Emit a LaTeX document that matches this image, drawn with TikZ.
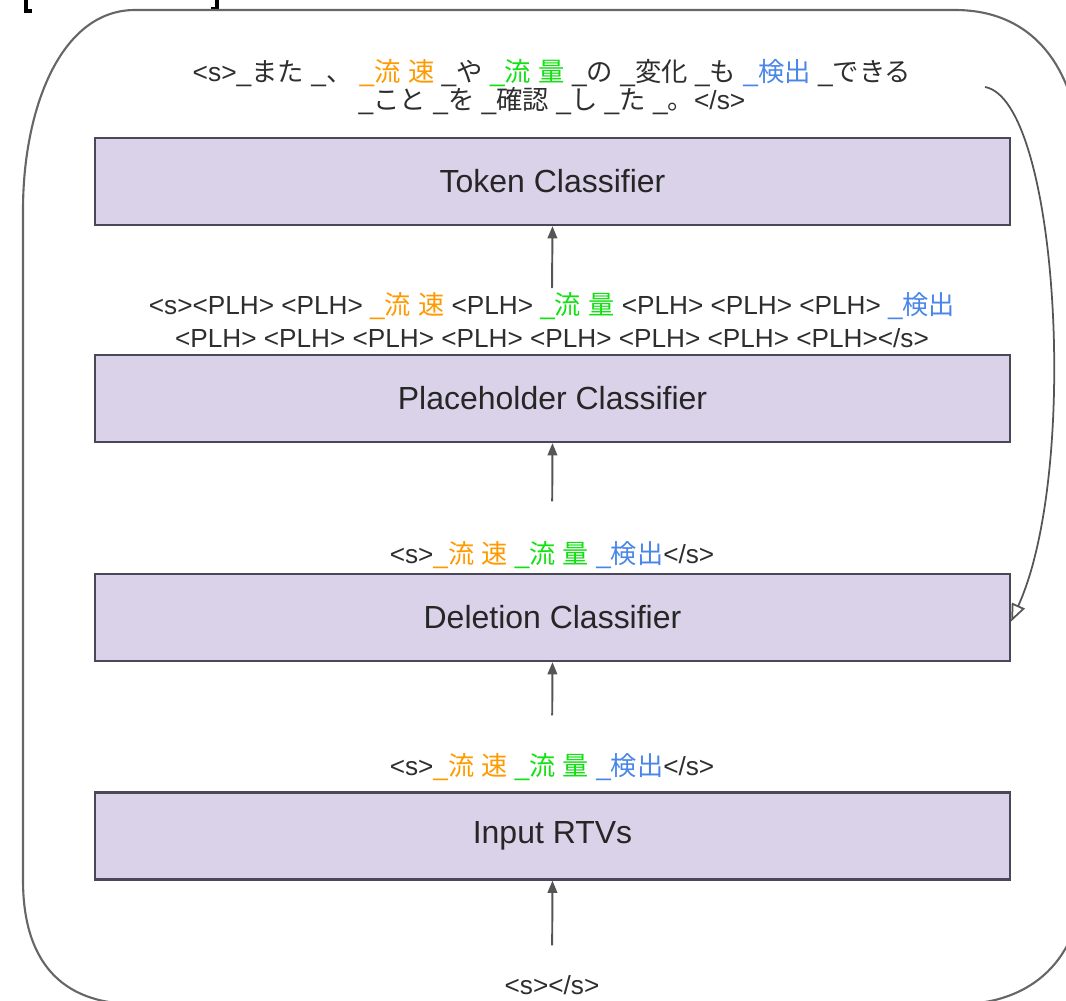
\documentclass[tikz,border=0pt]{standalone}
\usepackage{fontspec}
\setmainfont{Liberation Sans}
\newfontfamily\jp{Noto Sans CJK JP}
\usetikzlibrary{arrows.meta}
\definecolor{boxfill}{HTML}{D9D2E9}
\definecolor{boxline}{HTML}{4A4858}
\definecolor{txt}{HTML}{2E2E2E}
\definecolor{arr}{HTML}{555555}
\definecolor{tor}{HTML}{FF9900}
\definecolor{tgr}{HTML}{11E011}
\definecolor{tbl}{HTML}{4A86E8}
\newcommand\J[1]{{\jp #1}}
\tikzset{
  stagebox/.style={draw=boxline, line width=1.3pt, fill=boxfill,
    minimum width=915*0.02cm, minimum height=87*0.02cm, inner sep=0pt,
    font=\fontsize{18.2}{22}\selectfont, text=black!85},
  seqlabel/.style={align=center, text=txt, inner sep=1pt,
    font=\fontsize{14.9}{19}\selectfont},
  uparrow/.style={draw=arr, line width=1.1pt, -{Triangle[length=7pt,width=5.5pt]}},
  frame/.style={draw=black!60, line width=1.2pt},
  loopback/.style={draw=arr, line width=1pt, -{Triangle[open, length=10pt, width=8pt, fill=white]}},
  brack/.style={draw=black, line width=2pt}
}
\begin{document}
\begin{tikzpicture}[x=0.02cm, y=-0.02cm]
\useasboundingbox (0,0) rectangle (1066,1001);
\clip (0,0) rectangle (1066,1001);
% cut-off bracket fragments at the top edge
\draw[brack] (26,-2) -- (26,11) -- (32,11);
\draw[brack] (217,-2) -- (217,9) -- (211,9);
% outer frame
\draw[frame] (135,10) -- (955,10) .. controls (1035,10) and (1080,70) .. (1082,170)
  -- (1082,880) .. controls (1082,960) and (1030,1004) .. (960,1004)
  -- (135,1004) .. controls (60,1004) and (23,960) .. (23,880)
  -- (23,210) .. controls (23,110) and (60,10) .. (135,10);
% boxes
\node[stagebox] (tok) at (552.5,181.5) {Token Classifier};
\node[stagebox] (plh) at (552.5,398.5) {Placeholder Classifier};
\node[stagebox] (del) at (552.5,617.5) {Deletion Classifier};
\node[stagebox] (inp) at (552.5,836) {Input RTVs};
% labels
\node[seqlabel, font=\fontsize{15}{16}\selectfont] (l0) at (552,87)
  {<s>\_\J{また} \_\J{、} {\color{tor}\_\J{流} \J{速}} \_\J{や} {\color{tgr}\_\J{流} \J{量}} \_\J{の} \_\J{変化} \_\J{も} {\color{tbl}\_\J{検出}} \_\J{できる}\\
   \_\J{こと} \_\J{を} \_\J{確認} \_\J{し} \_\J{た} \_\J{。}</s>};
\node[seqlabel] (l1) at (552,320)
  {<s><PLH> <PLH> {\color{tor}\_\J{流} \J{速}} <PLH> {\color{tgr}\_\J{流} \J{量}} <PLH> <PLH> <PLH> {\color{tbl}\_\J{検出}}\\
   <PLH> <PLH> <PLH> <PLH> <PLH> <PLH> <PLH> <PLH></s>};
\node[seqlabel] (l2) at (552,555)
  {<s>{\color{tor}\_\J{流} \J{速}} {\color{tgr}\_\J{流} \J{量}} {\color{tbl}\_\J{検出}}</s>};
\node[seqlabel] (l3) at (552,767)
  {<s>{\color{tor}\_\J{流} \J{速}} {\color{tgr}\_\J{流} \J{量}} {\color{tbl}\_\J{検出}}</s>};
\node[seqlabel] (l4) at (552,985) {<s></s>};
% upward arrows
\draw[uparrow, shorten <=28*0.02cm] (l4.north) -- (inp.south);
\draw[uparrow, shorten <=36*0.02cm] (l3.north) -- (del.south);
\draw[uparrow, shorten <=38*0.02cm] (l2.north) -- (plh.south);
\draw[uparrow, shorten <=2*0.02cm] (l1.north) -- (tok.south);
% loop back arrow
\coordinate (lstart) at (985,87);
\draw[loopback] (lstart) .. controls (1058,100) and (1080,470) .. ([yshift=-4*0.02cm]del.east);
\end{tikzpicture}
\end{document}
